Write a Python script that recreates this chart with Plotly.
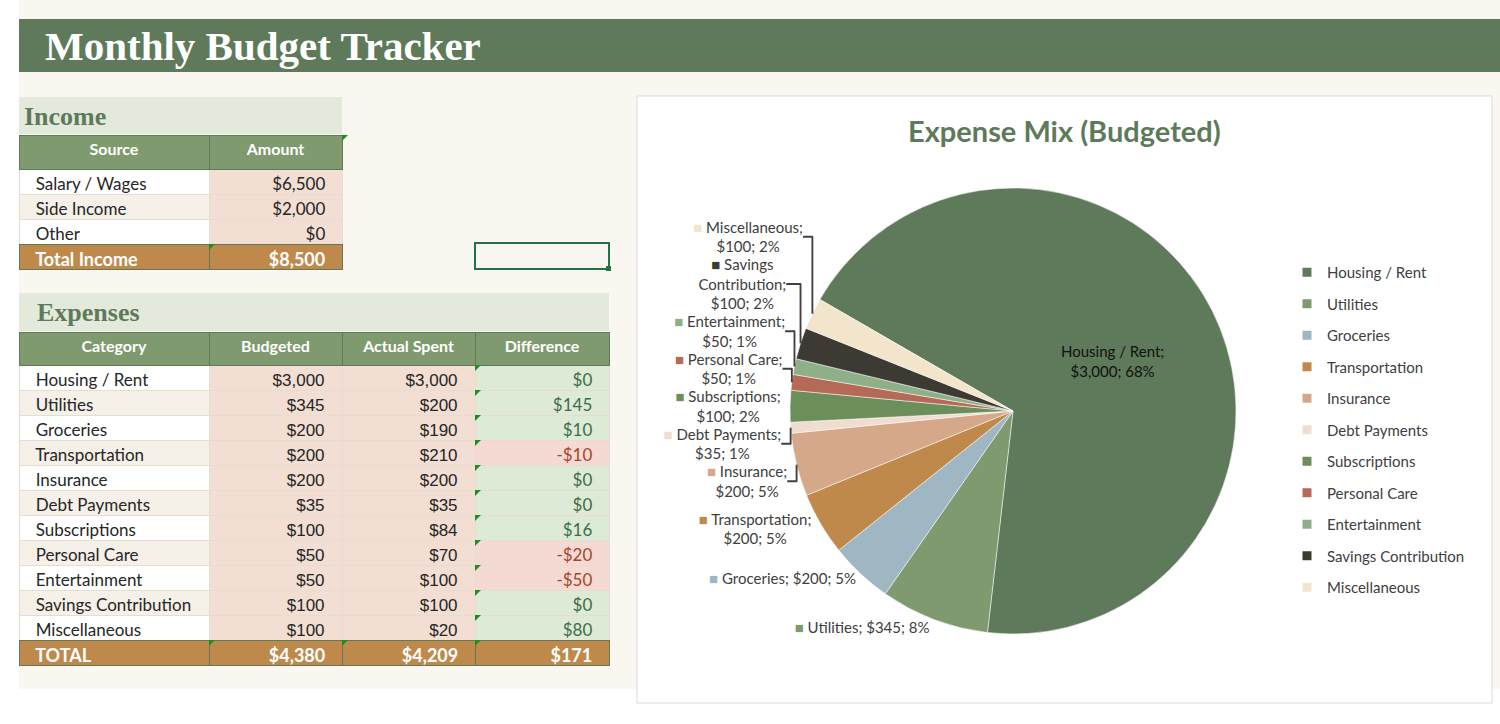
import plotly.graph_objects as go

W, H = 1500, 724

income_sources = ["Salary / Wages", "Side Income", "Other"]
income_amounts = [6500, 2000, 0]

categories = ["Housing / Rent", "Utilities", "Groceries", "Transportation", "Insurance",
              "Debt Payments", "Subscriptions", "Personal Care", "Entertainment",
              "Savings Contribution", "Miscellaneous"]
budgeted = [3000, 345, 200, 200, 200, 35, 100, 50, 50, 100, 100]
actual = [3000, 200, 190, 210, 200, 35, 84, 70, 100, 100, 20]

slice_colors = ["#5E7A5A", "#7F9A6E", "#9FB6C3", "#C0894C", "#D6A88A", "#F0DDD2",
                "#6B8E5A", "#B56A58", "#8FAF88", "#3C3A33", "#F3E4CC"]

GREEN = "#5E7A5A"
HEAD = "#7F9A6E"
BAND = "#E3EADB"
BROWN = "#C0894C"
PEACH = "#F2DED2"
CREAM = "#FAF7F0"
TXT = "#262626"
NB = "\u00a0"  # extra cell padding, excel style
ROW = 25


def money(v):
    return f"-${abs(v):,}" if v < 0 else f"${v:,}"


def px(x):
    return x / W


def py(y):
    return 1 - y / H


def rect(x0, y0, x1, y1, fill, line=None, lw=0, layer="below"):
    return dict(type="rect", xref="paper", yref="paper", x0=px(x0), x1=px(x1),
                y0=py(y1), y1=py(y0), fillcolor=fill, layer=layer,
                line=dict(color=line or fill, width=lw))


def tri(x, y, s=6):
    # little excel "error" flag in a cell corner
    path = f"M {px(x)} {py(y)} L {px(x + s)} {py(y)} L {px(x)} {py(y + s)} Z"
    return dict(type="path", xref="paper", yref="paper", path=path,
                fillcolor="#1E8E1E", line=dict(width=0), layer="above")


def left(s):
    return NB * 2 + s


def right(s):
    return s + NB * 2


def total_row(values, x0, x1, y0, widths, align, families):
    # bold total line as a header-only table
    return go.Table(
        domain=dict(x=[px(x0), px(x1)], y=[py(y0 + ROW + 4), py(y0)]),
        columnwidth=widths,
        header=dict(values=values, fill_color=BROWN, align=align, height=ROW,
                    font=dict(color="white", size=18, family=families, weight="bold"),
                    line=dict(color=GREEN, width=1)),
    )


fig = go.Figure()

# ---- income table
n_inc = len(income_sources)
inc_total = sum(income_amounts)
row_fill = ["white" if i % 2 == 0 else "#F5F0E8" for i in range(n_inc)]
inc_top, inc_head = 135, 34
fig.add_trace(go.Table(
    domain=dict(x=[px(19), px(342)], y=[py(inc_top + inc_head + ROW * n_inc + 3), py(inc_top)]),
    columnwidth=[190, 133],
    header=dict(values=["Source", "Amount"], fill_color=HEAD,
                font=dict(color="white", size=16, family="Lato", weight="bold"),
                align="center", height=inc_head, line=dict(color=GREEN, width=1)),
    cells=dict(values=[[left(s) for s in income_sources],
                       [right(money(v)) for v in income_amounts]],
               fill_color=[row_fill, [PEACH] * n_inc],
               font=dict(color=TXT, size=17, family="Lato"),
               align=["left", "right"], height=ROW,
               line=dict(color="#E6DCD0", width=1)),
))
fig.add_trace(total_row([left("Total Income"), right(money(inc_total))], 19, 342,
                        inc_top + inc_head + ROW * n_inc, [190, 133],
                        ["left", "right"], "Lato"))

# ---- expenses table
n = len(categories)
diff = [b - a for b, a in zip(budgeted, actual)]
tb, ta = sum(budgeted), sum(actual)
cat_fill = ["white" if i % 2 == 0 else "#F5F0E8" for i in range(n)]
diff_fill = ["#DDEBD6" if d >= 0 else "#F4DAD3" for d in diff]
diff_font = ["#3E6B4A" if d >= 0 else "#A5472A" for d in diff]
exp_top, exp_head = 332, 33
exp_w = [190, 133, 133, 134]
fig.add_trace(go.Table(
    domain=dict(x=[px(19), px(609)], y=[py(exp_top + exp_head + ROW * n + 3), py(exp_top)]),
    columnwidth=exp_w,
    header=dict(values=["Category", "Budgeted", "Actual Spent", "Difference"],
                fill_color=HEAD,
                font=dict(color="white", size=16, family="Lato", weight="bold"),
                align="center", height=exp_head, line=dict(color=GREEN, width=1)),
    cells=dict(values=[[left(c) for c in categories],
                       [right(money(v)) for v in budgeted],
                       [right(money(v)) for v in actual],
                       [right(money(v)) for v in diff]],
               fill_color=[cat_fill, [PEACH] * n, [PEACH] * n, diff_fill],
               font=dict(color=[[TXT] * n, [TXT] * n, [TXT] * n, diff_font], size=17,
                         family=["Lato", "Liberation Sans", "Liberation Sans", "Lato"]),
               align=["left", "right", "right", "right"], height=ROW,
               line=dict(color="#E6DCD0", width=1)),
))
fig.add_trace(total_row([left("TOTAL"), right(money(tb)), right(money(ta)),
                         right(money(tb - ta))], 19, 609, exp_top + exp_head + ROW * n,
                        exp_w, ["left", "right", "right", "right"], "Lato"))

# ---- pie
keys = [f'<span style="color:{c}">■</span> ' for c in slice_colors]
one_line = {"Utilities", "Groceries"}
templates = []
for i, cat in enumerate(categories):
    if i == 0:
        templates.append("%{label};<br>%{value:$,.0f}; %{percent:.0%}")
    elif cat in one_line:
        templates.append("%{customdata}%{label}; %{value:$,.0f}; %{percent:.0%}")
    elif cat == "Savings Contribution":
        templates.append("%{customdata}Savings<br>Contribution;<br>%{value:$,.0f}; %{percent:.0%}")
    else:
        templates.append("%{customdata}%{label};<br>%{value:$,.0f}; %{percent:.0%}")

fig.add_trace(go.Pie(
    labels=categories, values=budgeted, customdata=keys, sort=False,
    direction="clockwise", rotation=300,
    domain=dict(x=[px(790), px(1236)], y=[py(634), py(188)]),
    marker=dict(colors=slice_colors, line=dict(color="white", width=0.5)),
    texttemplate=templates,
    textposition=["inside"] + ["outside"] * (n - 1),
    insidetextorientation="horizontal",
    insidetextfont=dict(color="#111111", size=15, family="Lato"),
    outsidetextfont=dict(color="#404040", size=15, family="Lato"),
    showlegend=False, hoverinfo="label+value+percent",
))

# legend entries, one per category
for cat, c in zip(categories, slice_colors):
    fig.add_trace(go.Scatter(x=[None], y=[None], mode="markers", name=cat,
                             legendgroup=cat,
                             marker=dict(symbol="square", size=9, color=c)))

shapes = [
    rect(19, 0, 1500, 689, CREAM),
    rect(19, 19, 1500, 72, GREEN),
    rect(19, 97, 342, 134, BAND),
    rect(19, 293, 609, 331, BAND),
    rect(637, 96, 1492, 703, "white", line="#D9D9D9", lw=1),
    rect(475, 243, 609, 269, "rgba(0,0,0,0)", line="#217346", lw=2, layer="above"),
    rect(606, 266, 611, 271, "#217346", line="#217346", lw=0, layer="above"),
    tri(342, 135), tri(209, 244),
    tri(209, 640), tri(342, 640), tri(475, 640),
]
shapes += [tri(475, exp_top + exp_head + ROW * i) for i in range(n)]


def label(text, x, y, size, color, family, anchor="left"):
    return dict(text=text, x=px(x), y=py(y), xref="paper", yref="paper",
                xanchor=anchor, yanchor="middle", showarrow=False,
                font=dict(family=family, size=size, color=color))


annotations = [
    label("<b>Monthly Budget Tracker</b>", 43, 46, 41, "white", "Liberation Serif"),
    label("<b>Income</b>", 22, 116, 26, GREEN, "Liberation Serif"),
    label("<b>Expenses</b>", 35, 312, 26, GREEN, "Liberation Serif"),
    label("<b>Expense Mix (Budgeted)</b>", 1064, 130, 29, GREEN, "Lato", "center"),
]

fig.update_layout(
    width=W, height=H, margin=dict(l=0, r=0, t=0, b=0),
    paper_bgcolor="white", plot_bgcolor="rgba(0,0,0,0)",
    shapes=shapes, annotations=annotations,
    xaxis=dict(visible=False), yaxis=dict(visible=False),
    legend=dict(x=px(1287), y=py(256), xanchor="left", yanchor="top",
                tracegroupgap=9, bgcolor="rgba(0,0,0,0)",
                font=dict(family="Lato", size=15, color="#404040")),
)

fig.write_html("out.html", config={"displayModeBar": False},
               post_script="document.body.style.margin='0';")
